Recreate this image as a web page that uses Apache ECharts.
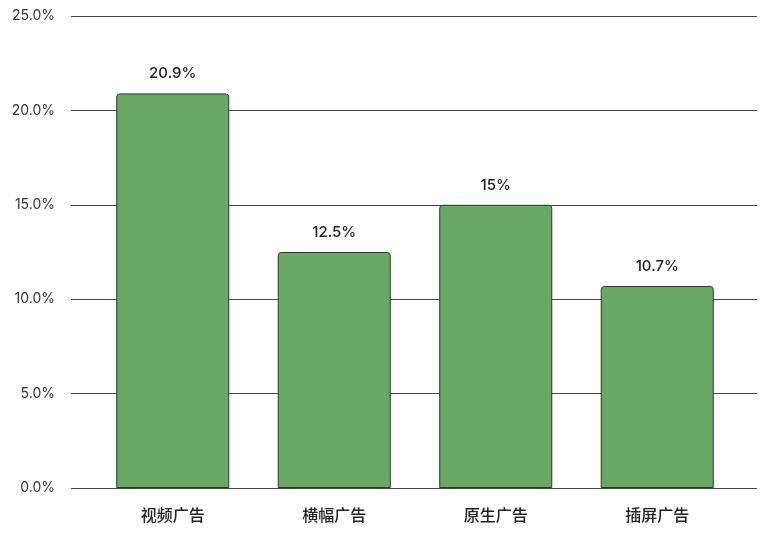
<!DOCTYPE html>
<html><head><meta charset="utf-8">
<script src="https://cdn.jsdelivr.net/npm/echarts@6/dist/echarts.min.js"></script>
<style>html,body{margin:0;padding:0;background:#fff}#c{width:770px;height:534px}</style>
</head><body><div id="c"></div>
<script>
const categories = ['视频广告', '横幅广告', '原生广告', '插屏广告'];
const values = [20.9, 12.5, 15, 10.7];
const yTicks = [0, 5, 10, 15, 20, 25];

const chart = echarts.init(document.getElementById('c'));
const font = 'Inter, "Noto Sans CJK SC", sans-serif';
chart.setOption({
  animation: false,
  grid: [
    { left: 71, right: 13, top: 16, bottom: 46 },
    { left: 92, right: 32, top: 16, bottom: 46 }
  ],
  xAxis: [
    { gridIndex: 0, type: 'category', data: categories, show: false },
    {
      gridIndex: 1, type: 'category', data: categories,
      axisLine: { show: false }, axisTick: { show: false },
      axisLabel: { margin: 20, color: '#222', fontSize: 16, fontWeight: 500, fontFamily: font }
    }
  ],
  yAxis: [
    {
      gridIndex: 0, type: 'value', min: yTicks[0], max: yTicks[yTicks.length - 1], interval: 5,
      axisLine: { show: false }, axisTick: { show: false },
      splitLine: { lineStyle: { color: '#444', width: 1 } },
      axisLabel: { margin: 16, color: '#333', fontSize: 14, fontFamily: font,
        formatter: v => v.toFixed(1) + '%' }
    },
    { gridIndex: 1, type: 'value', min: 0, max: 25, interval: 5, show: false }
  ],
  series: [{
    type: 'bar', xAxisIndex: 1, yAxisIndex: 1,
    data: values, barWidth: '70%',
    itemStyle: { color: '#68a864', borderColor: '#2b3a2a', borderWidth: 1, borderRadius: [3, 3, 0, 0] },
    label: { show: true, position: 'top', distance: 12, color: '#222', fontSize: 15, fontWeight: 500,
      fontFamily: font, formatter: p => p.value + '%' }
  }]
});
</script></body></html>
